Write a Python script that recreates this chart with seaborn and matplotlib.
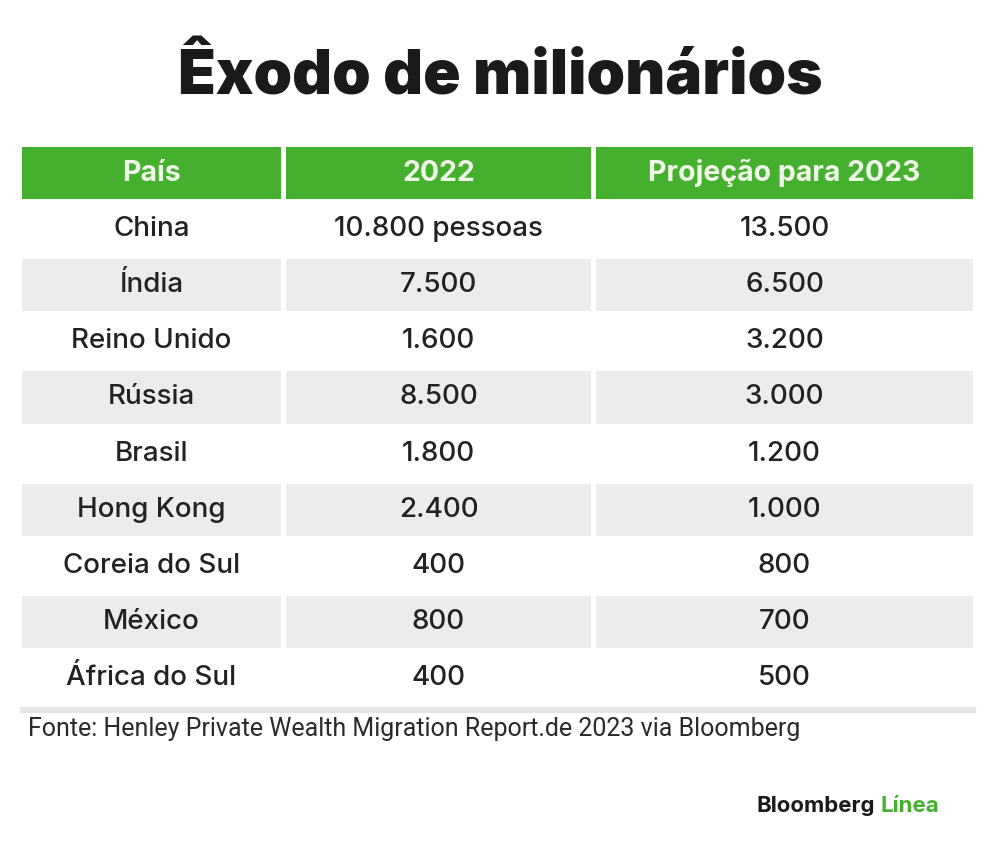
import numpy as np
import matplotlib
matplotlib.use("Agg")
import matplotlib.pyplot as plt
from matplotlib.colors import ListedColormap
from matplotlib.patches import Rectangle
import seaborn as sns

paises = ["China", "Índia", "Reino Unido", "Rússia", "Brasil",
          "Hong Kong", "Coreia do Sul", "México", "África do Sul"]
saida_2022 = [10800, 7500, 1600, 8500, 1800, 2400, 400, 800, 400]
projecao_2023 = [13500, 6500, 3200, 3000, 1200, 1000, 800, 700, 500]
cabecalho = ["País", "2022", "Projeção para 2023"]

titulo = "Êxodo de milionários"
fonte = "Fonte: Henley Private Wealth Migration Report.de 2023 via Bloomberg"


def fmt(v):
    return f"{v:,}".replace(",", ".")


col_2022 = [fmt(v) for v in saida_2022]
col_2022[0] = col_2022[0] + " pessoas"
col_2023 = [fmt(v) for v in projecao_2023]
colunas = [paises, col_2022, col_2023]

# 2 = header, 1 = grey stripe, 0 = white
fundo = np.array([2] + [i % 2 for i in range(len(paises))]).reshape(-1, 1)

sns.set_theme(style="white")
plt.rcParams["font.family"] = ["Inter", "DejaVu Sans"]

W, H = 1000, 865
fig = plt.figure(figsize=(W / 100, H / 100), dpi=100)
fig.patch.set_facecolor("white")

cmap = ListedColormap(["#ffffff", "#ececec", "#45b02d"])
limites = [(20, 283), (284, 593), (594, 975)]
top, bottom = 145, 706

for (x0, x1), titulo_col, valores in zip(limites, cabecalho, colunas):
    ax = fig.add_axes([x0 / W, 1 - bottom / H, (x1 - x0) / W, (bottom - top) / H])
    textos = np.array([titulo_col] + list(valores), dtype=object).reshape(-1, 1)
    sns.heatmap(fundo, ax=ax, cmap=cmap, vmin=-0.5, vmax=2.5, cbar=False,
                annot=textos, fmt="", linewidths=1.5, linecolor="white",
                annot_kws={"fontsize": 20, "fontweight": "medium"})
    ax.set_xticks([])
    ax.set_yticks([])
    for i, t in enumerate(ax.texts):
        if i == 0:
            t.set_color("#eef7e8")
            t.set_fontweight("bold")
            t.set_fontsize(20.5)
        else:
            t.set_color("#222222")

# thin grey rule under the table
fig.patches.append(Rectangle((20 / W, 1 - 712 / H), 955 / W, 5 / H,
                             transform=fig.transFigure, color="#e6e6e6"))

fig.text(0.5, 1 - 78 / H, titulo, ha="center", va="center",
         fontsize=44.5, fontweight="black", color="#1a1a1a")
fig.text(28 / W, 1 - 729 / H, fonte, ha="left", va="center",
         fontsize=18, color="#2a2a2a", family=["Roboto", "DejaVu Sans"])
fig.text(875 / W, 1 - 806 / H, "Bloomberg", ha="right", va="center",
         fontsize=16, fontweight="bold", color="#1a1a1a")
fig.text(881 / W, 1 - 806 / H, "Línea", ha="left", va="center",
         fontsize=16, fontweight="bold", color="#45b02d")

fig.savefig("out.png", dpi=100, facecolor="white")
